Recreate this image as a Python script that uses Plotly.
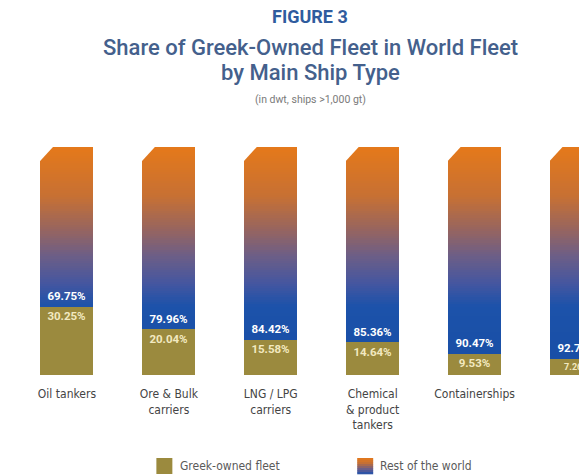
import plotly.graph_objects as go

# Share of Greek-owned fleet vs rest of the world, % of dwt by ship type
CATEGORIES = [
    "Oil tankers",
    "Ore & Bulk<br>carriers",
    "LNG / LPG<br>carriers",
    "Chemical<br>& product<br>tankers",
    "Containerships",
    "Refrigerated<br>cargo ships",
]
GREEK = [30.25, 20.04, 15.58, 14.64, 9.53, 7.26]
REST = [69.75, 79.96, 84.42, 85.36, 90.47, 92.74]

SERIES_NAMES = ["Greek-owned fleet", "Rest of the world"]

W, H = 579, 475
M_L, M_R, M_T, M_B = 15.5, 0, 147, 100
PLOT_W = W - M_L - M_R
PLOT_H = H - M_T - M_B
SLOT_PX = 102.0
BAR_W = 0.52

OLIVE = "#9B8A3E"
LABEL_FONT = "Roboto, Noto Sans, sans-serif"
TEXT_FONT = "Liberation Sans Narrow, DejaVu Sans Condensed, Noto Sans, sans-serif"

# vertical colour ramp of the "rest of the world" bars (percent level -> rgb)
RAMP = [
    (0, (24, 78, 165)),
    (30, (28, 82, 170)),
    (40, (68, 86, 160)),
    (52, (108, 94, 135)),
    (63, (148, 100, 98)),
    (78, (198, 112, 52)),
    (100, (229, 121, 26)),
]


def ramp_color(level):
    for (a, ca), (b, cb) in zip(RAMP[:-1], RAMP[1:]):
        if a <= level <= b:
            t = (level - a) / (b - a)
            c = [round(ca[j] + (cb[j] - ca[j]) * t) for j in range(3)]
            return "rgb({},{},{})".format(*c)
    return "rgb({},{},{})".format(*RAMP[-1][1])


x_idx = list(range(len(CATEGORIES)))
fig = go.Figure()

# Greek-owned share (bottom segment)
fig.add_trace(go.Bar(
    x=x_idx, y=GREEK, width=BAR_W, name=SERIES_NAMES[0],
    marker=dict(color=OLIVE, line=dict(width=0)),
    text=[f"<b>{v:.2f}%</b>" for v in GREEK],
    textposition="inside", insidetextanchor="end", textangle=0,
    textfont=dict(family=LABEL_FONT, size=11.5, color="#F2E9C0"),
    showlegend=False,
))

# Rest of the world segment, drawn in 1% bands so the colour follows the ramp
for k in range(100):
    bases, heights = [], []
    for g in GREEK:
        lo = max(g, k)
        hi = min(100, k + 1)
        if hi > lo:
            bases.append(lo)
            heights.append(hi - lo)
        else:
            bases.append(None)
            heights.append(None)
    fig.add_trace(go.Bar(
        x=x_idx, y=heights, base=bases, width=BAR_W,
        marker=dict(color=ramp_color(k + 0.5), line=dict(width=0)),
        showlegend=False, hoverinfo="skip",
    ))

# value labels of the rest-of-world segment
fig.add_trace(go.Bar(
    x=x_idx, y=REST, base=GREEK, width=BAR_W, name=SERIES_NAMES[1],
    marker=dict(color="rgba(0,0,0,0)", line=dict(width=0)),
    text=[f"<b>{v:.2f}%</b>" for v in REST],
    textposition="inside", insidetextanchor="start", textangle=0,
    textfont=dict(family=LABEL_FONT, size=11.5, color="#FFFFFF"),
    showlegend=False,
))

shapes = []
# bevelled top-left corner on each bar
dx, dy = 0.135, 6.5
for i in x_idx:
    x0 = i - BAR_W / 2
    shapes.append(dict(
        type="path", xref="x", yref="y", layer="above",
        path=f"M {x0 - 0.01},{100.6} L {x0 + dx},{100.6} L {x0 - 0.01},{100 - dy} Z",
        fillcolor="white", line=dict(width=0),
    ))

# faint ground shadow under the bars
shapes.append(dict(type="line", xref="paper", yref="y", x0=0, x1=1, y0=-0.6, y1=-0.6,
                   line=dict(color="rgba(200,200,200,0.45)", width=2), layer="below"))


def px_x(px):
    return (px - M_L) / PLOT_W


def px_y(py):
    return (H - M_B - py) / PLOT_H


# legend swatches
shapes.append(dict(type="rect", xref="paper", yref="paper",
                   x0=px_x(156), x1=px_x(172), y0=px_y(474), y1=px_y(458),
                   fillcolor=OLIVE, line=dict(width=0)))
n_sw = 8
for s in range(n_sw):
    top = 458 + 16 * s / n_sw
    bot = 458 + 16 * (s + 1) / n_sw
    lvl = 100 - 70 * (s + 0.5) / n_sw
    shapes.append(dict(type="rect", xref="paper", yref="paper",
                       x0=px_x(357), x1=px_x(373), y0=px_y(bot + 0.3), y1=px_y(top),
                       fillcolor=ramp_color(lvl), line=dict(width=0)))

TITLE_X = px_x(310)
TITLE_FONT = "Roboto, Noto Sans, sans-serif"
annotations = [
    dict(text="<b>FIGURE 3</b>", x=TITLE_X, y=px_y(16), xref="paper", yref="paper",
         showarrow=False, xanchor="center", yanchor="middle",
         font=dict(family=TITLE_FONT, size=18, color="#2F5C9E")),
    dict(text="Share of Greek-Owned Fleet in World Fleet", x=TITLE_X, y=px_y(47),
         xref="paper", yref="paper", showarrow=False, xanchor="center", yanchor="middle",
         font=dict(family=TITLE_FONT, size=22, weight=500, color="#44608C")),
    dict(text="by Main Ship Type", x=TITLE_X, y=px_y(72),
         xref="paper", yref="paper", showarrow=False, xanchor="center", yanchor="middle",
         font=dict(family=TITLE_FONT, size=22, weight=500, color="#44608C")),
    dict(text="(in dwt, ships >1,000 gt)", x=TITLE_X, y=px_y(100),
         xref="paper", yref="paper", showarrow=False, xanchor="center", yanchor="middle",
         font=dict(family=TITLE_FONT, size=10.5, color="#7A7A7A")),
    dict(text=SERIES_NAMES[0], x=px_x(178), y=px_y(466), xref="paper", yref="paper",
         showarrow=False, xanchor="left", yanchor="middle",
         font=dict(family=TEXT_FONT, size=12, color="#5A5A5A")),
    dict(text=SERIES_NAMES[1], x=px_x(378), y=px_y(466), xref="paper", yref="paper",
         showarrow=False, xanchor="left", yanchor="middle",
         font=dict(family=TEXT_FONT, size=12, color="#5A5A5A")),
]

fig.update_layout(
    width=W, height=H,
    margin=dict(l=M_L, r=M_R, t=M_T, b=M_B, pad=0),
    paper_bgcolor="white", plot_bgcolor="white",
    barmode="overlay", bargap=0,
    showlegend=False,
    shapes=shapes, annotations=annotations,
    xaxis=dict(
        range=[-0.5, -0.5 + PLOT_W / SLOT_PX],
        tickmode="array", tickvals=x_idx, ticktext=CATEGORIES,
        showgrid=False, zeroline=False, showline=False, ticks="",
        ticklabelstandoff=10,
        tickfont=dict(family=TEXT_FONT, size=12, color="#444444"),
    ),
    yaxis=dict(range=[0, 100], visible=False, fixedrange=True),
)

fig.write_html("out.html")
